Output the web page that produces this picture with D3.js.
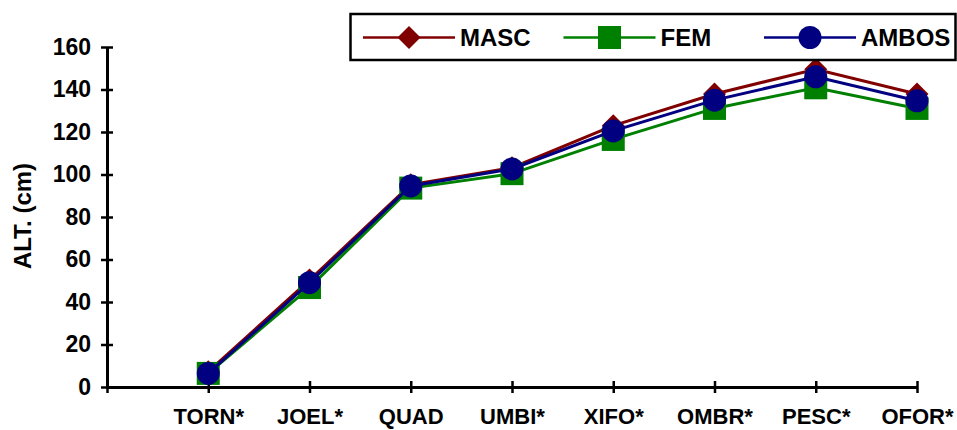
<!DOCTYPE html>
<html>
<head>
<meta charset="utf-8">
<script src="https://cdn.jsdelivr.net/npm/d3@7"></script>
<style>
  html, body { margin: 0; padding: 0; background: #fff; }
  svg { display: block; font-family: "Liberation Sans", Arial, sans-serif; font-weight: bold; }
</style>
</head>
<body>
<svg id="chart" width="957" height="430"></svg>
<script>
// Body-segment heights (cm) by landmark
const categories = ["TORN*", "JOEL*", "QUAD", "UMBI*", "XIFO*", "OMBR*", "PESC*", "OFOR*"];
const masc  = [7.2, 50.3, 95.2, 103.2, 123.0, 137.9, 149.5, 137.9];
const fem   = [6.4, 46.8, 93.6, 100.4, 116.5, 131.1, 140.8, 131.1];
const ambos = [6.4, 49.1, 94.6, 102.6, 120.5, 135.0, 146.0, 134.7];
const yTicks = [0, 20, 40, 60, 80, 100, 120, 140, 160];

const series = [
  { name: "MASC",  values: masc,  color: "#800000", shape: "diamond" },
  { name: "FEM",   values: fem,   color: "#008000", shape: "square" },
  { name: "AMBOS", values: ambos, color: "#000080", shape: "circle" }
];

const svg = d3.select("#chart");
const plotLeft = 107, plotRight = 917, plotTop = 47, plotBottom = 387;

// the first slot of the band sits on the value axis and stays empty
const x = d3.scalePoint().domain(["", ...categories]).range([plotLeft, plotRight]);
const y = d3.scaleLinear().domain([0, 160]).range([plotBottom, plotTop]);

// value axis
const yAxis = svg.append("g")
  .attr("transform", `translate(${plotLeft},0)`)
  .call(d3.axisLeft(y).tickValues(yTicks).tickSizeInner(6).tickSizeOuter(0).tickPadding(10));
yAxis.select(".domain").attr("stroke", "#000").attr("stroke-width", 3);
yAxis.selectAll(".tick line").attr("x1", 6).attr("stroke", "#000").attr("stroke-width", 2.5);
yAxis.selectAll(".tick text")
  .attr("fill", "#000").style("font-size", "23px").style("font-weight", "bold")
  .style("font-family", "'Liberation Sans', Arial, sans-serif");

// category axis
const xAxis = svg.append("g")
  .attr("transform", `translate(0,${plotBottom})`)
  .call(d3.axisBottom(x).tickSizeInner(6).tickSizeOuter(0).tickPadding(15));
xAxis.select(".domain").attr("stroke", "#000").attr("stroke-width", 3);
xAxis.selectAll(".tick line").attr("y1", -6).attr("stroke", "#000").attr("stroke-width", 2.5);
xAxis.selectAll(".tick text")
  .attr("fill", "#000").style("font-size", "22px").style("font-weight", "bold")
  .style("font-family", "'Liberation Sans', Arial, sans-serif");

// axis title
svg.append("text")
  .attr("transform", `translate(31,216) rotate(-90)`)
  .attr("text-anchor", "middle")
  .style("font-size", "24px")
  .text("ALT. (cm)");

function marker(g, shape, color, cx, cy, s) {
  const h = s / 2;
  if (shape === "diamond") {
    g.append("path")
      .attr("d", `M${cx},${cy - h}L${cx + h},${cy}L${cx},${cy + h}L${cx - h},${cy}Z`)
      .attr("fill", color);
  } else if (shape === "square") {
    g.append("rect").attr("x", cx - h).attr("y", cy - h)
      .attr("width", s).attr("height", s).attr("fill", color);
  } else {
    g.append("circle").attr("cx", cx).attr("cy", cy).attr("r", h).attr("fill", color);
  }
}

const line = d3.line().x(d => x(d.cat)).y(d => y(d.v));

series.forEach(s => {
  const pts = categories.map((c, i) => ({ cat: c, v: s.values[i] }));
  const g = svg.append("g");
  g.append("path").datum(pts)
    .attr("d", line)
    .attr("fill", "none")
    .attr("stroke", s.color)
    .attr("stroke-width", 3);
  pts.forEach(p => marker(g, s.shape, s.color, x(p.cat), y(p.v), 23));
});

// legend
const legend = svg.append("g");
legend.append("rect")
  .attr("x", 350.5).attr("y", 14).attr("width", 605).attr("height", 46)
  .attr("fill", "#fff").attr("stroke", "#000").attr("stroke-width", 2.5);

series.forEach((s, i) => {
  const x0 = 363 + i * 200.5, ly = 37.5;
  legend.append("line")
    .attr("x1", x0).attr("x2", x0 + 92).attr("y1", ly).attr("y2", ly)
    .attr("stroke", s.color).attr("stroke-width", 2.5);
  marker(legend, s.shape, s.color, x0 + 46, ly, 23);
  legend.append("text")
    .attr("x", x0 + 97).attr("y", ly)
    .attr("dy", "0.36em")
    .style("font-size", "24px")
    .text(s.name);
});
</script>
</body>
</html>
